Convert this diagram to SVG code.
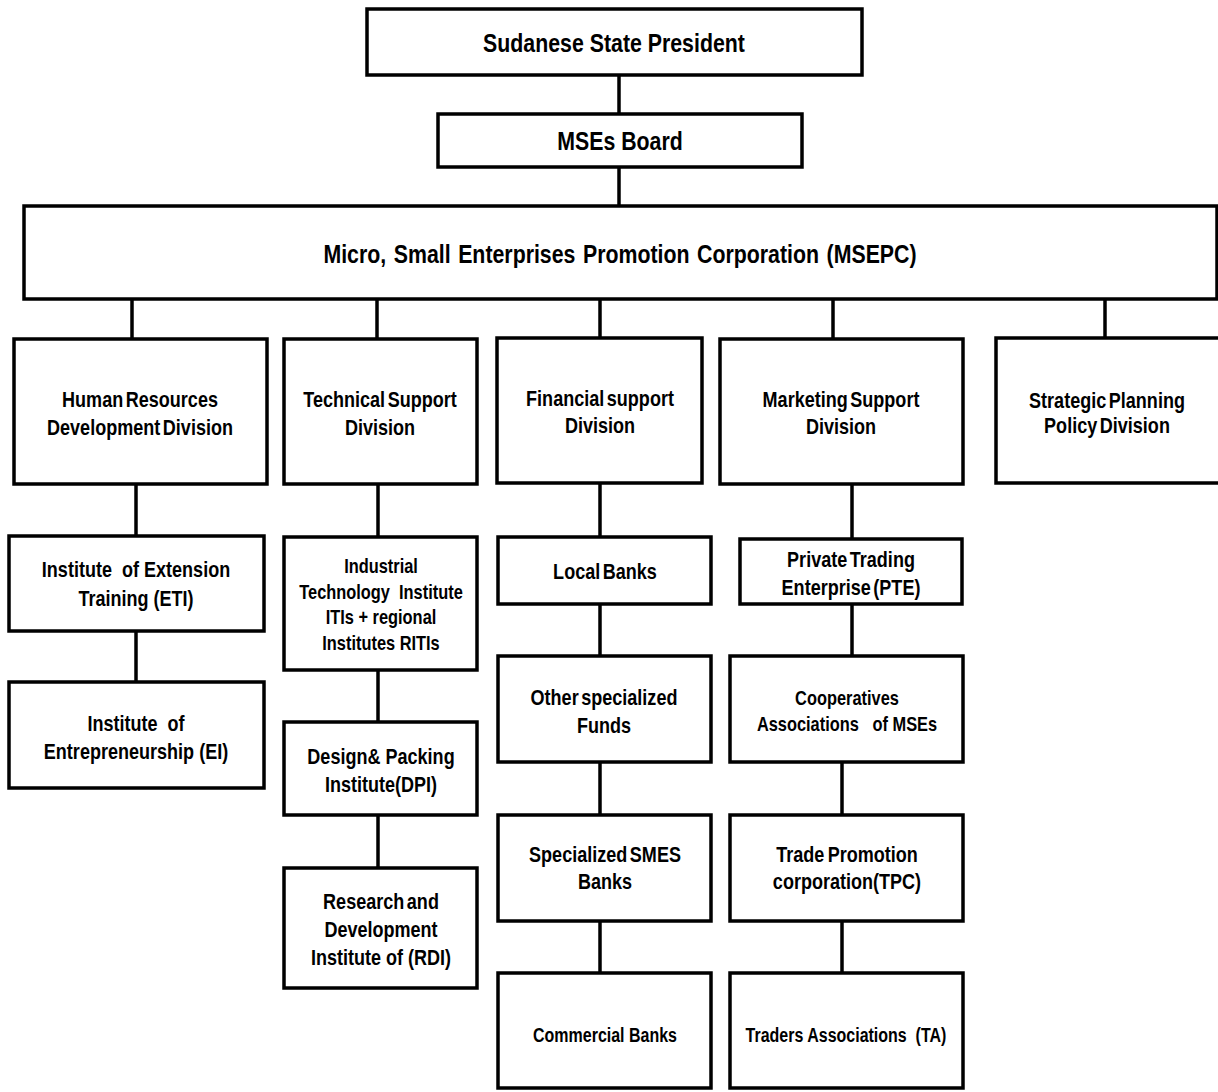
<svg xmlns="http://www.w3.org/2000/svg" width="1218" height="1092" viewBox="0 0 1218 1092">
<style>
.box{fill:#fff;stroke:#000;stroke-width:3.5}
.con line{stroke:#000;stroke-width:3.5}
text{font-family:"Liberation Sans",Arial,sans-serif;font-weight:bold;fill:#000;text-anchor:middle}
.t26{font-size:26px}
.t22{font-size:22px}
.t20{font-size:20px}
.t19{font-size:19.5px}
</style>
<rect width="1218" height="1092" fill="#fff"/>
<g id="connectors" class="con">
<line x1="619" y1="75" x2="619" y2="114"/>
<line x1="619" y1="167" x2="619" y2="206"/>
<line x1="132" y1="299" x2="132" y2="339"/>
<line x1="377" y1="299" x2="377" y2="339"/>
<line x1="600" y1="299" x2="600" y2="338"/>
<line x1="833" y1="299" x2="833" y2="339"/>
<line x1="1105" y1="299" x2="1105" y2="338"/>
<line x1="136" y1="484" x2="136" y2="536"/>
<line x1="136" y1="631" x2="136" y2="682"/>
<line x1="378" y1="484" x2="378" y2="537"/>
<line x1="378" y1="670" x2="378" y2="722"/>
<line x1="378" y1="815" x2="378" y2="868"/>
<line x1="600" y1="483" x2="600" y2="537"/>
<line x1="600" y1="604" x2="600" y2="656"/>
<line x1="600" y1="762" x2="600" y2="815"/>
<line x1="600" y1="921" x2="600" y2="973"/>
<line x1="852" y1="484" x2="852" y2="539"/>
<line x1="852" y1="604" x2="852" y2="656"/>
<line x1="842" y1="762" x2="842" y2="815"/>
<line x1="842" y1="921" x2="842" y2="973"/>
</g>
<g id="president"><rect class="box" x="367" y="9" width="495" height="66"/><text class="t26" transform="translate(614 0) scale(.82 1)" y="52">Sudanese State President</text></g>
<g id="board"><rect class="box" x="438" y="114" width="364" height="53"/><text class="t26" transform="translate(620 0) scale(.82 1)" y="150">MSEs Board</text></g>
<g id="msepc"><rect class="box" x="24" y="206" width="1193" height="93"/><text class="t26" transform="translate(620 0) scale(.82 1)" y="263" word-spacing="2">Micro, Small Enterprises Promotion Corporation (MSEPC)</text></g>
<g id="hr"><rect class="box" x="14" y="339" width="253" height="145"/><text class="t22" transform="translate(140 0) scale(.82 1)" word-spacing="-3"><tspan x="0" y="407">Human Resources</tspan><tspan x="0" y="435">Development Division</tspan></text></g>
<g id="tech"><rect class="box" x="284" y="339" width="193" height="145"/><text class="t22" transform="translate(380 0) scale(.82 1)" word-spacing="-3"><tspan x="0" y="407">Technical Support</tspan><tspan x="0" y="435">Division</tspan></text></g>
<g id="fin"><rect class="box" x="497" y="338" width="205" height="145"/><text class="t22" transform="translate(600 0) scale(.82 1)" word-spacing="-3"><tspan x="0" y="406">Financial support</tspan><tspan x="0" y="433">Division</tspan></text></g>
<g id="mkt"><rect class="box" x="720" y="339" width="243" height="145"/><text class="t22" transform="translate(841 0) scale(.82 1)" word-spacing="-3"><tspan x="0" y="407">Marketing Support</tspan><tspan x="0" y="434">Division</tspan></text></g>
<g id="strat"><rect class="box" x="996" y="338" width="226" height="145"/><text class="t22" transform="translate(1107 0) scale(.82 1)" word-spacing="-3"><tspan x="0" y="408">Strategic Planning</tspan><tspan x="0" y="433">Policy Division</tspan></text></g>
<g id="eti"><rect class="box" x="9" y="536" width="255" height="95"/><text class="t22" transform="translate(136 0) scale(.82 1)"><tspan x="0" y="577" xml:space="preserve">Institute  of Extension</tspan><tspan x="0" y="606">Training (ETI)</tspan></text></g>
<g id="ei"><rect class="box" x="9" y="682" width="255" height="106"/><text class="t22" transform="translate(136 0) scale(.82 1)"><tspan x="0" y="731" xml:space="preserve">Institute  of</tspan><tspan x="0" y="759">Entrepreneurship (EI)</tspan></text></g>
<g id="iti"><rect class="box" x="284" y="537" width="193" height="133"/><text class="t20" transform="translate(381 0) scale(.82 1)"><tspan x="0" y="573">Industrial</tspan><tspan x="0" y="599" xml:space="preserve">Technology  Institute</tspan><tspan x="0" y="624">ITIs + regional</tspan><tspan x="0" y="650">Institutes RITIs</tspan></text></g>
<g id="dpi"><rect class="box" x="284" y="722" width="193" height="93"/><text class="t22" transform="translate(381 0) scale(.82 1)"><tspan x="0" y="764">Design&amp; Packing</tspan><tspan x="0" y="792">Institute(DPI)</tspan></text></g>
<g id="rdi"><rect class="box" x="284" y="868" width="193" height="120"/><text class="t22" transform="translate(381 0) scale(.82 1)"><tspan x="0" y="909" word-spacing="-3">Research and</tspan><tspan x="0" y="937">Development</tspan><tspan x="0" y="965">Institute of (RDI)</tspan></text></g>
<g id="local"><rect class="box" x="498" y="537" width="213" height="67"/><text class="t22" transform="translate(605 0) scale(.82 1)" y="579" word-spacing="-3">Local Banks</text></g>
<g id="other"><rect class="box" x="498" y="656" width="213" height="106"/><text class="t22" transform="translate(604 0) scale(.82 1)" word-spacing="-3"><tspan x="0" y="705">Other specialized</tspan><tspan x="0" y="733">Funds</tspan></text></g>
<g id="smes"><rect class="box" x="498" y="815" width="213" height="106"/><text class="t22" transform="translate(605 0) scale(.82 1)" word-spacing="-3"><tspan x="0" y="862">Specialized SMES</tspan><tspan x="0" y="889">Banks</tspan></text></g>
<g id="commercial"><rect class="box" x="498" y="973" width="213" height="115"/><text class="t19" transform="translate(605 0) scale(.82 1)" y="1042">Commercial Banks</text></g>
<g id="pte"><rect class="box" x="740" y="539" width="222" height="65"/><text class="t22" transform="translate(851 0) scale(.82 1)" word-spacing="-3"><tspan x="0" y="567">Private Trading</tspan><tspan x="0" y="595">Enterprise (PTE)</tspan></text></g>
<g id="coop"><rect class="box" x="730" y="656" width="233" height="106"/><text class="t20" transform="translate(847 0) scale(.82 1)"><tspan x="0" y="705">Cooperatives</tspan><tspan x="0" y="731" xml:space="preserve">Associations   of MSEs</tspan></text></g>
<g id="tpc"><rect class="box" x="730" y="815" width="233" height="106"/><text class="t22" transform="translate(847 0) scale(.82 1)" word-spacing="-2"><tspan x="0" y="862">Trade Promotion</tspan><tspan x="0" y="889">corporation(TPC)</tspan></text></g>
<g id="ta"><rect class="box" x="730" y="973" width="233" height="115"/><text class="t19" transform="translate(846 0) scale(.82 1)" y="1042" xml:space="preserve">Traders Associations  (TA)</text></g>
</svg>
